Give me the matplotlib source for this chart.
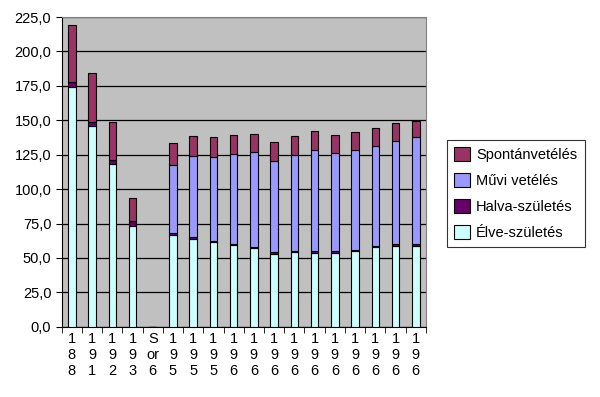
import numpy as np
import matplotlib.pyplot as plt
from matplotlib.ticker import FixedLocator, FuncFormatter

plt.rcParams['font.family'] = ['Liberation Sans', 'DejaVu Sans']

# category labels (Excel wrapped them one character per line)
labels = ["188", "191", "192", "193", "Sor6", "195", "195", "195", "196", "196",
          "196", "196", "196", "196", "196", "196", "196", "196"]

elve = [174, 146, 118, 73.5, 0, 67, 64, 61.5, 59.5, 57.3, 53.2, 54.4, 53.9,
        53.9, 54.9, 58, 59, 59]
halva = [3.5, 3, 3.5, 3, 0, 1.2, 0.9, 0.8, 0.8, 0.8, 0.8, 0.8, 0.8,
         0.8, 0.8, 0.8, 0.8, 0.8]
muvi = [0, 0, 0, 0, 0, 49.5, 58.9, 61, 65.2, 68.9, 66.4, 69.8, 74,
        71.6, 72.7, 72.3, 75.4, 77.8]
spont = [41.5, 35, 27.5, 17, 0, 16, 15, 14.3, 13.6, 13.1, 13.6, 13.9, 13.8,
         13.1, 13.4, 13.1, 12.9, 11.9]

def wrap(s):
    if s == "Sor6":
        return "S\nor\n6"
    return "\n".join(s)

fig = plt.figure(figsize=(6, 3.97), dpi=100)
ax = fig.add_axes([0.1028, 0.177, 0.607, 0.78])
ax.set_facecolor('#C0C0C0')

x = np.arange(len(labels))
w = 0.37
kw = dict(width=w, edgecolor='black', linewidth=0.8, zorder=3)
b = np.zeros(len(labels))
ax.bar(x, elve, bottom=b, color='#CCFFFF', label='Élve-születés', **kw)
b += elve
ax.bar(x, halva, bottom=b, color='#660066', label='Halva-születés', **kw)
b += halva
ax.bar(x, muvi, bottom=b, color='#9999FF', label='Művi vetélés', **kw)
b += muvi
ax.bar(x, spont, bottom=b, color='#993366', label='Spontánvetélés', **kw)

ax.set_xlim(-0.5, len(labels) - 0.5)
ax.set_ylim(0, 225)
ax.set_yticks(np.arange(0, 226, 25))
ax.yaxis.set_major_formatter(FuncFormatter(lambda v, p: f"{v:.1f}".replace('.', ',')))
ax.grid(axis='y', color='black', linewidth=0.9, zorder=1)
ax.set_axisbelow(True)

ax.set_xticks(x)
ax.set_xticklabels([wrap(s) for s in labels], linespacing=1.15)
ax.xaxis.set_minor_locator(FixedLocator(np.arange(-0.5, len(labels), 1)))
ax.tick_params(axis='x', which='major', length=0, pad=4, labelsize=10.5)
ax.tick_params(axis='x', which='minor', length=4, direction='out')
ax.tick_params(axis='y', length=4, direction='out', labelsize=10.5)

for s in ['left', 'bottom']:
    ax.spines[s].set_color('black')
for s in ['top', 'right']:
    ax.spines[s].set_color('#808080')

h, l = ax.get_legend_handles_labels()
leg = fig.legend(h[::-1], l[::-1], loc='upper left', bbox_to_anchor=(0.745, 0.648),
                 borderaxespad=0, fontsize=10.5, frameon=True, fancybox=False,
                 edgecolor='black', handlelength=1.05, handleheight=1.1,
                 handletextpad=0.45, labelspacing=0.75, borderpad=0.5)
leg.get_frame().set_linewidth(0.8)

fig.savefig('out.png', dpi=100)
